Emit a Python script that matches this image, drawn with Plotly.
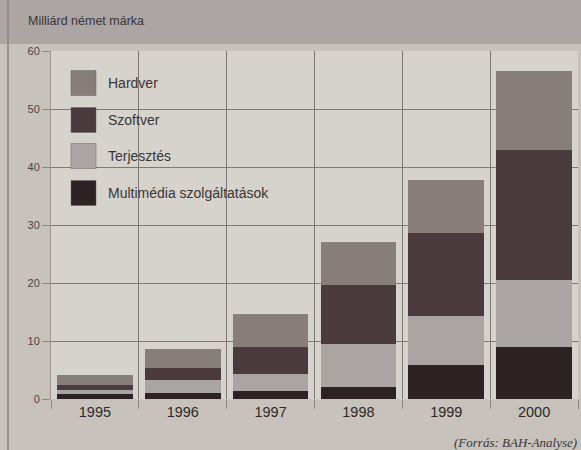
import plotly.graph_objects as go

years = ["1995", "1996", "1997", "1998", "1999", "2000"]
hardver = [1.8, 3.3, 5.8, 7.4, 9.1, 13.6]
szoftver = [0.9, 2.1, 4.6, 10.1, 14.3, 22.3]
terjesztes = [0.7, 2.1, 2.9, 7.4, 8.4, 11.7]
multimedia = [0.8, 1.1, 1.4, 2.1, 5.9, 8.9]

series_names = ["Hardver", "Szoftver", "Terjesztés", "Multimédia szolgáltatások"]
colors = {"Hardver": "#877d7a", "Szoftver": "#4b3b3e", "Terjesztés": "#aaa5a3",
          "Multimédia szolgáltatások": "#2d2224"}
values = {"Hardver": hardver, "Szoftver": szoftver, "Terjesztés": terjesztes,
          "Multimédia szolgáltatások": multimedia}

y_ticks = [0, 10, 20, 30, 40, 50, 60]

fig = go.Figure()
for name in reversed(series_names):
    fig.add_trace(go.Bar(x=years, y=values[name], name=name,
                         marker=dict(color=colors[name], line=dict(width=0)),
                         showlegend=False, hoverinfo="skip"))

W, H = 581, 450
ml, mr, mt, mb = 51, 3, 51, 51
pw, ph = W - ml - mr, H - mt - mb

def px_x(x):
    return (x - ml) / pw

def px_y(y):
    return (H - mb - y) / ph

shapes = [
    # darker top band
    dict(type="rect", xref="paper", yref="paper", x0=px_x(0), x1=px_x(W),
         y0=px_y(44), y1=px_y(0), fillcolor="#aba6a4", line=dict(width=0), layer="below"),
    # left frame line
    dict(type="line", xref="paper", yref="paper", x0=px_x(8), x1=px_x(8),
         y0=px_y(H), y1=px_y(0), line=dict(color="#8a8583", width=1.5)),
]
annotations = []
legend_rows = [83, 120, 156, 193]
for name, yc in zip(series_names, legend_rows):
    shapes.append(dict(type="rect", xref="paper", yref="paper",
                       x0=px_x(71), x1=px_x(96), y0=px_y(yc + 12.5), y1=px_y(yc - 12.5),
                       fillcolor=colors[name], line=dict(color="#6a6262", width=0.5)))
    annotations.append(dict(text=name, xref="paper", yref="paper", x=px_x(106), y=px_y(yc),
                            xanchor="left", yanchor="middle", showarrow=False,
                            font=dict(size=14, color="#3a3536", family="Liberation Sans, Arial")))

annotations.append(dict(text="Milliárd német márka", xref="paper", yref="paper",
                        x=px_x(26), y=px_y(21), xanchor="left", yanchor="middle", showarrow=False,
                        font=dict(size=12.5, color="#3a3536", family="Liberation Sans, Arial")))
annotations.append(dict(text="<i>(Forrás: BAH-Analyse)</i>", xref="paper", yref="paper",
                        x=px_x(579), y=px_y(442), xanchor="right", yanchor="middle", showarrow=False,
                        font=dict(size=13, color="#3a3536", family="Liberation Serif, Times New Roman")))

fig.update_layout(
    width=W, height=H,
    margin=dict(l=ml, r=mr, t=mt, b=mb),
    barmode="stack", bargap=0.14,
    paper_bgcolor="#c7c2bc", plot_bgcolor="#d6d2cc",
    font=dict(family="Liberation Sans, Arial", color="#3a3536"),
    shapes=shapes, annotations=annotations,
    xaxis=dict(type="category", tickson="boundaries", showgrid=True, gridcolor="#7d7777",
               gridwidth=1, ticks="outside", ticklen=9, tickcolor="#8d8787",
               ticklabelstandoff=2,
               tickfont=dict(size=14.5, color="#2e2a2b"), showline=False, zeroline=False),
    yaxis=dict(range=[0, 60], tickvals=y_ticks, showgrid=True, gridcolor="#7d7777", gridwidth=1,
               ticks="outside", ticklen=8, tickcolor="#8d8787", tickfont=dict(size=11, color="#4a4446"),
               zeroline=False, showline=True, linecolor="#9a9494", linewidth=1),
)

fig.write_html("out.html", config={"displayModeBar": False},
               post_script="document.body.style.margin='0';document.body.style.padding='0';")
